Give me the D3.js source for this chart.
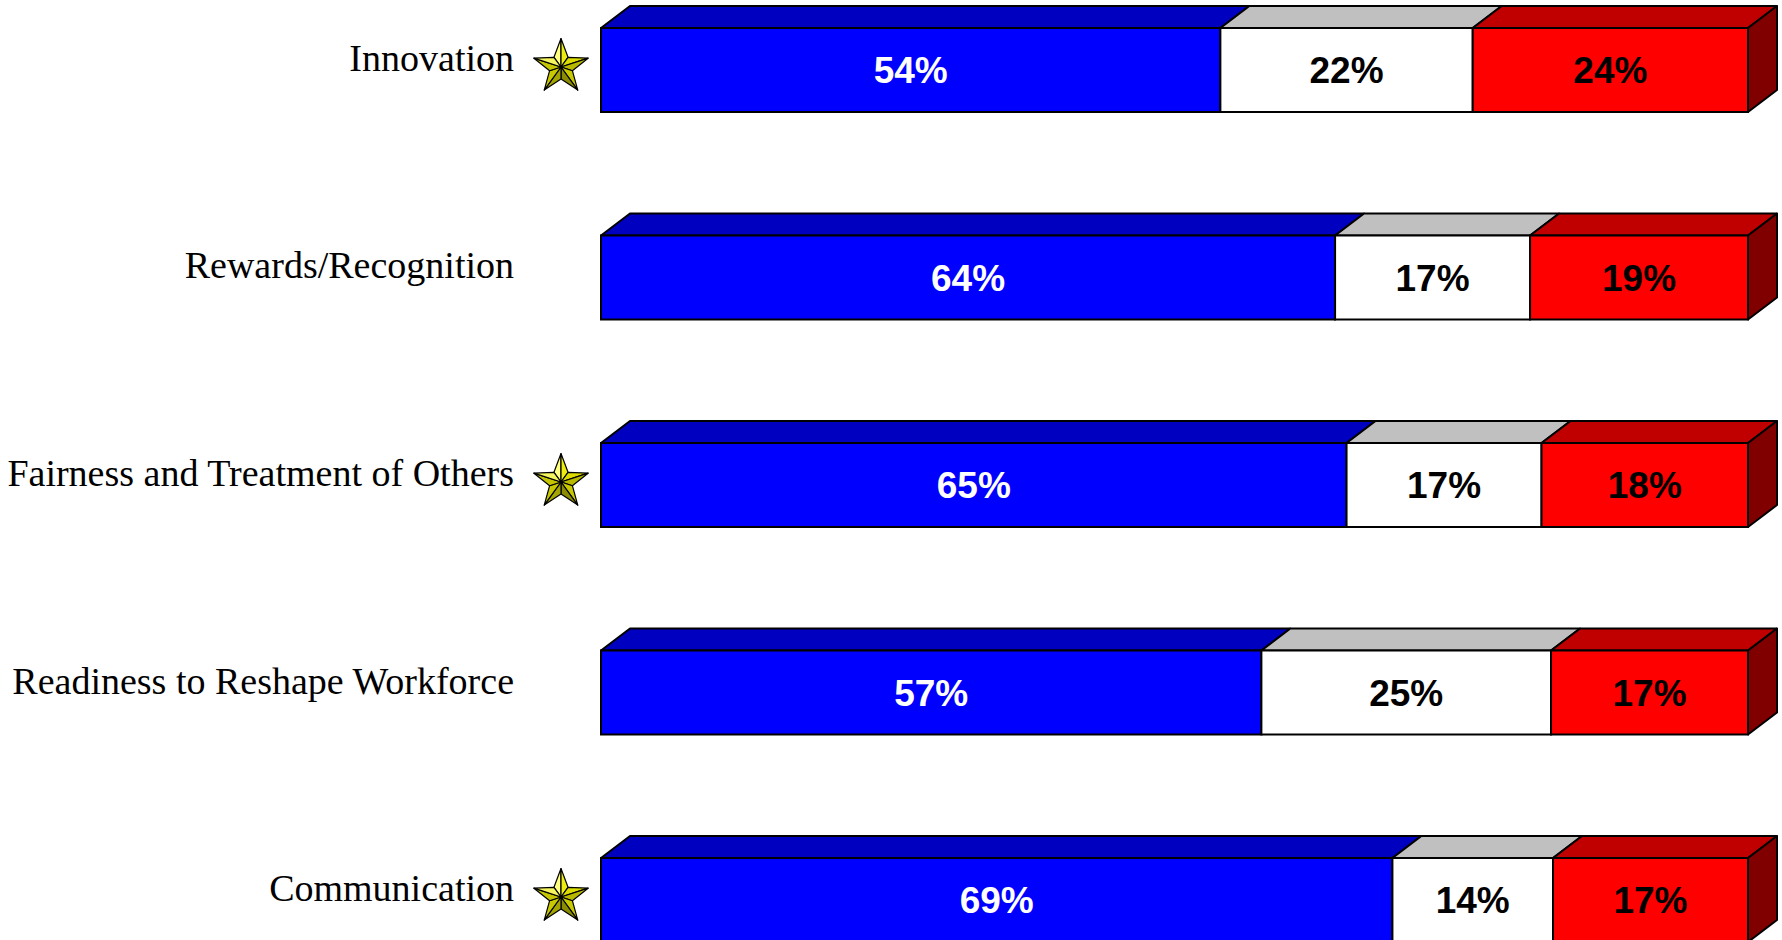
<!DOCTYPE html>
<html>
<head>
<meta charset="utf-8">
<script src="https://cdn.jsdelivr.net/npm/d3@7"></script>
<style>
  body { margin: 0; background: #fff; }
  svg { display: block; }
</style>
</head>
<body>
<div id="chart"></div>
<script>
// values
const categories = [
  "Innovation",
  "Rewards/Recognition",
  "Fairness and Treatment of Others",
  "Readiness to Reshape Workforce",
  "Communication"
];
const favorable = [54, 64, 65, 57, 69];
const neutral = [22, 17, 17, 25, 14];
const unfavorable = [24, 19, 18, 17, 17];
const starred = [true, false, true, false, true];
const seriesKeys = ["favorable", "neutral", "unfavorable"];

const rows = categories.map((c, i) => ({
  category: c,
  favorable: favorable[i],
  neutral: neutral[i],
  unfavorable: unfavorable[i],
  star: starred[i]
}));

const W = 1782, H = 940;
const depth = { dx: 29, dy: 22 };

// face colours per series: front, top, side
const colors = {
  favorable: { front: "#0000ff", top: "#0000c0", side: "#000080", text: "#fff" },
  neutral: { front: "#ffffff", top: "#c0c0c0", side: "#808080", text: "#000" },
  unfavorable: { front: "#ff0000", top: "#c00000", side: "#800000", text: "#000" }
};

// star facets, clockwise from the left half of the top point
const starShades = [
  "#ffff80", "#ecec10",
  "#dcdc00", "#b8b800",
  "#c8c800", "#8c8c00",
  "#a4a400", "#c8c800",
  "#c4c400", "#f4f460"
];

const svg = d3.select("#chart")
  .append("svg")
  .attr("width", W)
  .attr("height", H);

svg.append("rect").attr("width", W).attr("height", H).attr("fill", "#fff");

const xScale = d3.scaleLinear().domain([0, 1]).range([601, 1748]);
const yScale = d3.scaleBand()
  .domain(categories)
  .range([28, 942])
  .paddingInner(0.5952)
  .paddingOuter(0);

// stacked shares, normalised so each row fills the bar
const stacked = d3.stack().keys(seriesKeys).offset(d3.stackOffsetExpand)(rows);

const bh = yScale.bandwidth();

const rowG = svg.selectAll(".row")
  .data(rows)
  .join("g")
  .attr("class", "row");

rowG.each(function(d, i) {
  const g = d3.select(this);
  const y = yScale(d.category);
  const segs = stacked.map(s => ({ key: s.key, x0: s[i][0], x1: s[i][1], value: d[s.key] }));

  // top faces
  g.selectAll(".top")
    .data(segs)
    .join("path")
    .attr("class", "top")
    .attr("d", s => {
      const a = xScale(s.x0), b = xScale(s.x1);
      return `M${a},${y}L${b},${y}L${b + depth.dx},${y - depth.dy}L${a + depth.dx},${y - depth.dy}Z`;
    })
    .attr("fill", s => colors[s.key].top)
    .attr("stroke", "#000")
    .attr("stroke-width", 2)
    .attr("stroke-linejoin", "round");

  // right side of the last segment
  const last = segs[segs.length - 1];
  const r = xScale(last.x1);
  g.append("path")
    .attr("d", `M${r},${y}L${r + depth.dx},${y - depth.dy}L${r + depth.dx},${y + bh - depth.dy}L${r},${y + bh}Z`)
    .attr("fill", colors[last.key].side)
    .attr("stroke", "#000")
    .attr("stroke-width", 2)
    .attr("stroke-linejoin", "round");

  // front faces
  g.selectAll(".front")
    .data(segs)
    .join("rect")
    .attr("class", "front")
    .attr("x", s => xScale(s.x0))
    .attr("y", y)
    .attr("width", s => xScale(s.x1) - xScale(s.x0))
    .attr("height", bh)
    .attr("fill", s => colors[s.key].front)
    .attr("stroke", "#000")
    .attr("stroke-width", 2);

  // value labels
  g.selectAll(".val")
    .data(segs)
    .join("text")
    .attr("class", "val")
    .attr("x", s => (xScale(s.x0) + xScale(s.x1)) / 2)
    .attr("y", y + bh / 2)
    .attr("dy", "0.36em")
    .attr("text-anchor", "middle")
    .attr("font-family", "'Liberation Sans', Arial, sans-serif")
    .attr("font-weight", "bold")
    .attr("font-size", 37)
    .attr("fill", s => colors[s.key].text)
    .text(s => s.value + "%");

  // category label
  g.append("text")
    .attr("x", 514)
    .attr("y", y + bh / 2 + 1)
    .attr("text-anchor", "end")
    .attr("font-family", "'Liberation Serif', 'Times New Roman', serif")
    .attr("font-size", 38)
    .attr("fill", "#000")
    .text(d.category);

  if (d.star) drawStar(g, 561, y + bh / 2 - 3, 28.5);
});

// bevelled five point star, lit from the upper left
function drawStar(g, cx, cy, R) {
  const rIn = R * 0.42;
  const rad = a => a * Math.PI / 180;
  const pt = (r, a) => [cx + r * Math.cos(rad(a)), cy + r * Math.sin(rad(a))];
  const facets = [];
  for (let k = 0; k < 5; k++) {
    const a = -90 + k * 72;
    facets.push([pt(rIn, a - 36), pt(R, a)]);
    facets.push([pt(R, a), pt(rIn, a + 36)]);
  }
  g.append("g")
    .selectAll("path")
    .data(facets)
    .join("path")
    .attr("d", f => `M${cx},${cy}L${f[0]}L${f[1]}Z`)
    .attr("fill", (f, j) => starShades[j])
    .attr("stroke", "#000")
    .attr("stroke-width", 1.2)
    .attr("stroke-linejoin", "round");
}
</script>
</body>
</html>
